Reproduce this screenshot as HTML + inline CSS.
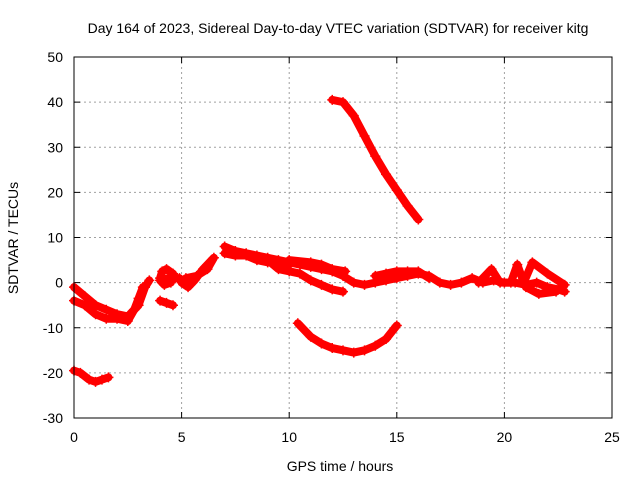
<!DOCTYPE html>
<html><head><meta charset="utf-8"><style>
body{margin:0;background:#fff}
svg{display:block;font-family:"Liberation Sans",sans-serif}
</style></head><body>
<svg id="c" width="640" height="480">
<text x="338" y="33" font-size="14" text-anchor="middle">Day 164 of 2023, Sidereal Day-to-day VTEC variation (SDTVAR) for receiver kitg</text>
<text x="340" y="471" font-size="14" text-anchor="middle">GPS time / hours</text>
<text transform="translate(18,238) rotate(-90)" font-size="14" text-anchor="middle">SDTVAR / TECUs</text>
<g id="grid"></g><g id="ticks"></g><g id="series"></g>
<rect x="74" y="57" width="538" height="361" fill="none" stroke="#000" stroke-width="1"/>
</svg>
<script>
const xTicks=[0,5,10,15,20,25];
const yTicks=[-30,-20,-10,0,10,20,30,40,50];
const sA=[[0,-1],[0.5,-3],[1,-5],[1.5,-6],[2,-7],[2.5,-7.5],[3,-5],[3.3,-1],[3.5,0.5]];
const sA2=[[0,-4],[0.5,-5],[1,-7],[1.5,-8],[2,-8],[2.5,-8.5],[2.8,-6],[3,-3.5],[3.2,-1]];
const sB=[[0,-19.5],[0.3,-20],[0.7,-21.5],[1,-22],[1.3,-21.5],[1.6,-21]];
const sC=[[4,1],[4.1,2.5],[4.3,3],[4.6,2],[4.5,0],[4.2,-0.5],[4,0.5],[4.4,1],[4.9,1]];
const sC2=[[4,-4],[4.3,-4.5],[4.6,-5]];
const sD=[[5,0],[5.3,-1],[5.6,0.5],[6,3],[6.5,5.5],[6.2,3],[5.7,1.5],[5.2,1]];
const sE=[[7,8],[7.5,7],[8,6.5],[8.5,6],[9,5.5],[9.5,5],[10,4.5],[10.5,4],[11,3.5],[11.5,3],[12,2.5],[12.5,1.5],[13,0],[13.5,-0.5],[14,0],[14.5,0.5],[15,1],[15.5,1.5],[16,2],[16.5,1.5],[17,0],[17.5,-0.5],[18,0],[18.5,1],[19,0],[19.5,0.5],[20,0],[20.5,0],[21,-0.5],[21.5,0],[22,-1],[22.5,-1.5],[22.8,-2]];
const sE1=[[7,6.5],[7.5,6],[8,6],[8.5,5],[9,4.5],[9.5,4.5],[10,4]];
const sE2=[[9,5],[9.5,3],[10,2.5],[10.5,2],[11,0.5],[11.5,-0.5],[12,-1.5],[12.5,-2]];
const sE3=[[10,5],[11,4.5],[11.5,4],[12,3],[12.6,2.5]];
const sE4=[[18.8,0],[19.4,3],[19.8,0],[20.3,0],[20.6,4],[20.9,0],[21.3,4.5],[22,2],[22.8,-0.5],[22.4,-2],[21.6,-2.5],[21,-1]];
const sE5=[[14,1.5],[14.5,2],[15,2.5],[15.5,2.5],[16,2.5],[16.5,1]];
const sF=[[12,40.5],[12.5,40],[13,37],[13.5,32.5],[14,28],[14.5,24],[15,20.5],[15.5,17],[16,14]];
const sG=[[10.4,-9],[11,-12],[11.5,-13.5],[12,-14.5],[12.5,-15],[13,-15.5],[13.5,-15],[14,-14],[14.5,-12.5],[15,-9.5]];
const allSeries=[sA,sA2,sB,sC,sC2,sD,sE,sE1,sE2,sE3,sE4,sE5,sF,sG];
const NS="http://www.w3.org/2000/svg";
const X=h=>74+h*538/25, Y=v=>57+(50-v)*361/80;
function mk(t,a,p){const e=document.createElementNS(NS,t);for(const k in a)e.setAttribute(k,a[k]);p.appendChild(e);return e;}
const g=document.getElementById('grid'),tk=document.getElementById('ticks'),s=document.getElementById('series');
xTicks.forEach(t=>{const x=X(t);
 if(t>0&&t<25){const l=mk('line',{x1:x,x2:x,y1:57,y2:418,stroke:'#a0a0a0','stroke-dasharray':'2,3'},g);
 }
 mk('line',{x1:x,x2:x,y1:418,y2:412,stroke:'#000'},tk);mk('line',{x1:x,x2:x,y1:57,y2:63,stroke:'#000'},tk);
 const tx=mk('text',{x:x,y:442,'font-size':14,'text-anchor':'middle'},tk);tx.textContent=t;
 });
yTicks.forEach(t=>{const y=Y(t);
 if(t>-30&&t<50){const l=mk('line',{x1:74,x2:612,y1:y,y2:y,stroke:'#a0a0a0','stroke-dasharray':'2,3'},g);
 }
 mk('line',{x1:74,x2:80,y1:y,y2:y,stroke:'#000'},tk);mk('line',{x1:612,x2:606,y1:y,y2:y,stroke:'#000'},tk);
 const tx=mk('text',{x:63,y:y+5,'font-size':14,'text-anchor':'end'},tk);tx.textContent=t;
 });
allSeries.forEach(d=>{
 const pl=mk('polyline',{points:d.map(p=>X(p[0])+','+Y(p[1])).join(' '),fill:'none',stroke:'#f00','stroke-width':8,'stroke-linejoin':'round','stroke-linecap':'round'},s);
 
 d.forEach(p=>{const x=X(p[0]),y=Y(p[1]);
  const m=mk('path',{d:`M${x-5},${y}H${x+5}M${x},${y-5}V${y+5}`,stroke:'#f00','stroke-width':1.5},s);
  });
});
</script>
</body></html>
